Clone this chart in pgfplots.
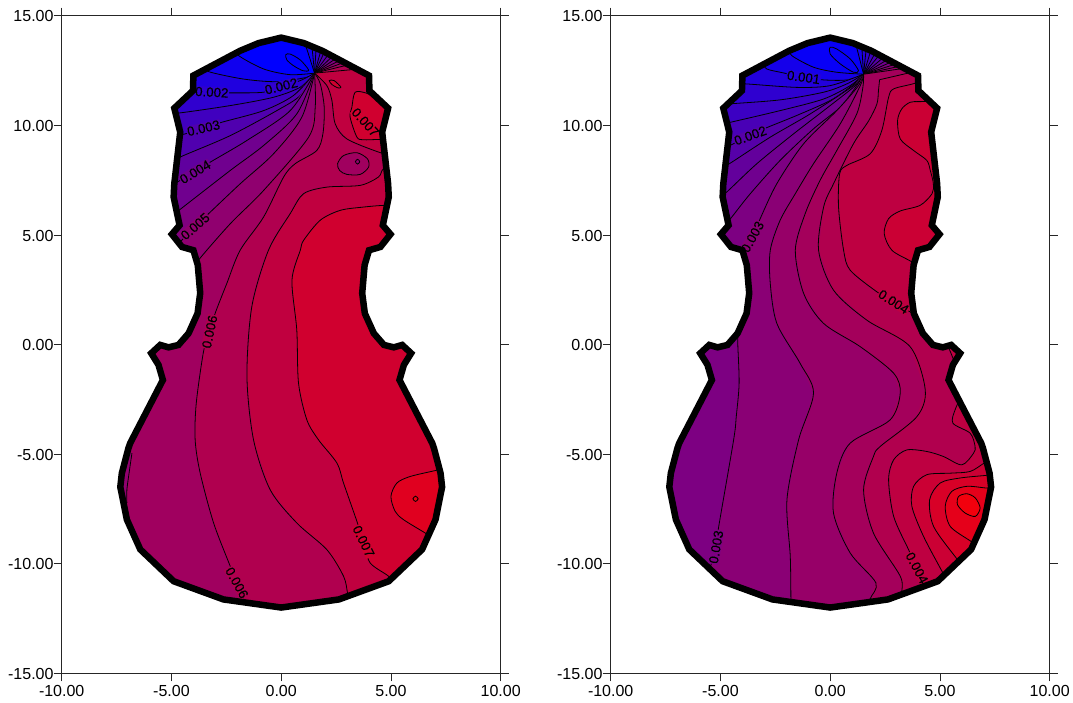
\documentclass[border=0pt]{standalone}
\usepackage{pgfplots}
\pgfplotsset{compat=1.18}
\usepackage{fontspec}
\setmainfont{Liberation Sans}
\newfontfamily\lblfam[FakeBold=0.35]{Liberation Sans}
\newcommand\dc[1]{\edef\x{\noexpand\definecolor{r#1}{RGB}{#1,0,\the\numexpr255-#1\relax}}\x}
\dc{0}\dc{8}\dc{16}\dc{21}\dc{32}\dc{34}\dc{47}\dc{48}\dc{60}\dc{64}\dc{73}\dc{80}\dc{86}\dc{96}\dc{99}\dc{112}\dc{125}\dc{128}\dc{138}\dc{144}\dc{151}\dc{160}\dc{164}\dc{176}\dc{177}\dc{190}\dc{192}\dc{203}\dc{208}\dc{216}\dc{224}\dc{229}\dc{240}\dc{242}
\newcommand\lblfont{\lblfam\fontsize{13.3}{14}\selectfont}
\tikzset{cl/.style={black,line width=0.8pt}}
% filled region bounded by a contour + the contour line
\newcommand\band[3]{\addplot[fill=#1,draw=none] coordinates {#2 #3} --cycle;
  \addplot[cl,smooth] coordinates {#2};}
% same, contour runs into the focus #3, then straight to the outline at #4
\newcommand\fan[5]{\addplot[fill=#1,draw=none] coordinates {#2 #3 #4 #5} --cycle;
  \addplot[cl,smooth] coordinates {#2 #3};
  \addplot[cl] coordinates {#3 #4};}
\newcommand\blob[2]{\addplot[cl,fill=#1,smooth cycle] coordinates {#2};}
\newcommand\cls[1]{(10,15)(10,-15)(-10,-15)(-10,#1)}
\newcommand\lb[5]{\node[fill=#5,inner sep=0.6pt,rotate=#3] at (axis cs:#1,#2) {\lblfont\phantom{#4}};}
\newcommand\lt[4]{\node[inner sep=0pt,rotate=#3,text=black] at (axis cs:#1,#2) {\lblfont #4};}
\newcommand\violin{(0,14)(1.03,13.75)(1.87,13.4)(4.0,12.27)(4.02,11.58)(4.87,10.78)(4.6,9.69)(4.87,7.34)(4.9,6.73)(4.63,5.44)(4.98,5.03)(4.52,4.45)(4.0,4.3)(3.8,3.62)(3.69,2.34)(3.81,1.42)(4.22,0.51)(4.68,-0.02)(5.13,-0.13)(5.51,-0.02)(5.92,-0.4)(5.59,-0.93)(5.39,-1.62)(6.88,-4.5)(6.96,-4.73)(7.26,-5.87)(7.33,-6.5)(7.03,-7.99)(6.42,-9.35)(4.9,-10.8)(2.63,-11.63)(0,-12)(-2.63,-11.63)(-4.9,-10.8)(-6.42,-9.35)(-7.03,-7.99)(-7.33,-6.5)(-7.26,-5.87)(-6.96,-4.73)(-6.88,-4.5)(-5.39,-1.62)(-5.59,-0.93)(-5.92,-0.4)(-5.51,-0.02)(-5.13,-0.13)(-4.68,-0.02)(-4.22,0.51)(-3.81,1.42)(-3.69,2.34)(-3.8,3.62)(-4.0,4.3)(-4.52,4.45)(-4.98,5.03)(-4.63,5.44)(-4.9,6.73)(-4.87,7.34)(-4.6,9.69)(-4.87,10.78)(-4.02,11.58)(-4.0,12.27)(-1.87,13.4)(-1.03,13.75)}
\newcommand\mask{\addplot[fill=white,draw=none,even odd rule] coordinates {(0,-15)(-11,-15)(-11,16)(11,16)(11,-15)(0,-15)(0,-12)(-2.63,-11.63)(-4.9,-10.8)(-6.42,-9.35)(-7.03,-7.99)(-7.33,-6.5)(-7.26,-5.87)(-6.96,-4.73)(-6.88,-4.5)(-5.39,-1.62)(-5.59,-0.93)(-5.92,-0.4)(-5.51,-0.02)(-5.13,-0.13)(-4.68,-0.02)(-4.22,0.51)(-3.81,1.42)(-3.69,2.34)(-3.8,3.62)(-4.0,4.3)(-4.52,4.45)(-4.98,5.03)(-4.63,5.44)(-4.9,6.73)(-4.87,7.34)(-4.6,9.69)(-4.87,10.78)(-4.02,11.58)(-4.0,12.27)(-1.87,13.4)(-1.03,13.75)(0,14)(1.03,13.75)(1.87,13.4)(4.0,12.27)(4.02,11.58)(4.87,10.78)(4.6,9.69)(4.87,7.34)(4.9,6.73)(4.63,5.44)(4.98,5.03)(4.52,4.45)(4.0,4.3)(3.8,3.62)(3.69,2.34)(3.81,1.42)(4.22,0.51)(4.68,-0.02)(5.13,-0.13)(5.51,-0.02)(5.92,-0.4)(5.59,-0.93)(5.39,-1.62)(6.88,-4.5)(6.96,-4.73)(7.26,-5.87)(7.33,-6.5)(7.03,-7.99)(6.42,-9.35)(4.9,-10.8)(2.63,-11.63)(0,-12)} --cycle;
\addplot[black,line width=6.5pt,line join=miter,miter limit=6] coordinates {\violin} --cycle;}
\pgfplotsset{panel/.style={scale only axis,width=439pt,height=657.6pt,
  xmin=-10,xmax=10,ymin=-15,ymax=15,axis on top,
  xtick={-10,-5,0,5,10},ytick={-15,-10,-5,0,5,10,15},
  xticklabels={-10.00,-5.00,0.00,5.00,10.00},
  yticklabels={-15.00,-10.00,-5.00,0.00,5.00,10.00,15.00},
  tick align=outside,tick pos=both,xticklabel pos=lower,yticklabel pos=left,
  major tick length=8pt,
  axis line style={line width=0.8pt,black!85},
  tick style={line width=0.8pt,black!85},
  tick label style={font=\fontsize{16}{18}\selectfont},
  xticklabel style={inner sep=0pt,yshift=-4pt},
  yticklabel style={inner sep=0pt,yshift=-0.7pt}}}
\begin{document}
\begin{tikzpicture}
\path[use as bounding box] (0,0) rectangle (1073pt,702pt);
%===================== LEFT
\begin{axis}[panel,at={(61.7pt,28.7pt)},anchor=south west]
\def\F{(1.52,12.38)}
\addplot[fill=r0,draw=none] coordinates {(-10,-15)(10,-15)(10,15)(-10,15)} --cycle;
\blob{r0}{(0.21,13.22)(0.41,13.25)(0.87,12.98)(1.25,12.52)(0.99,12.49)(0.56,12.72)(0.26,12.98)}
\fan{r16}{(-2.0,13.5)(-1.94,13.18)(-0.8,12.57)(0.41,12.31)}{\F}{(1.09,13.72)}{(10,15)(10,-15)(-10,-15)(-10,15)(-2.0,15)}
\fan{r32}{(-3.4,12.7)(-3.31,12.45)(-1.72,12.11)(-0.2,11.99)(1.17,12.19)}{\F}{(1.40,13.6)}{(10,15)(10,-15)(-10,-15)(-10,15)(-3.4,15)}
\fan{r48}{(-4.3,11.5)(-3.99,11.51)(-2.32,11.48)(-0.8,11.51)(0,11.78)(0.87,12.04)}{\F}{(1.59,13.52)}{\cls{11.5}}
\fan{r64}{(-5.2,10.6)(-4.75,10.55)(-2.32,10.9)(-0.35,11.28)(0.87,11.74)}{\F}{(1.81,13.42)}{\cls{10.6}}
\fan{r80}{(-4.9,9.5)(-4.37,9.61)(-3.54,9.87)(-2.7,10.14)(-0.8,10.67)(0.56,11.36)}{\F}{(1.97,13.35)}{\cls{9.5}}
\fan{r96}{(-5,8.35)(-4.45,8.62)(-2.32,9.53)(-0.2,10.67)(0.87,11.36)}{\F}{(2.16,13.25)}{\cls{8.35}}
\fan{r112}{(-5.2,7.1)(-4.6,7.49)(-3.92,7.87)(-3.23,8.32)(-1.56,9.31)(0.41,10.67)}{\F}{(2.34,13.15)}{\cls{7.1}}
\fan{r128}{(-5.2,5.7)(-4.75,6.05)(-2.32,7.94)(-0.8,9.08)(0.71,10.52)}{\F}{(2.51,13.06)}{\cls{5.7}}
\fan{r144}{(-5,4.2)(-4.6,4.68)(-3.92,5.39)(-3.39,5.89)(-1.87,7.33)(-0.35,8.7)(0.94,10.37)}{\F}{(2.69,12.97)}{\cls{4.2}}
\fan{r160}{(-4.2,3.2)(-3.77,3.85)(-2.32,5.51)(-0.8,7.03)(1.25,9.46)(1.55,10.82)}{\F}{(2.87,12.87)}{\cls{3.2}}
\fan{r176}{(-1.55,-12.1)(-1.64,-11.79)(-2.02,-10.87)(-2.32,-10.12)(-3.08,-8.14)(-3.69,-5.87)(-3.92,-4.35)(-3.87,-2.68)(-3.54,-0.33)(-3.26,0.58)(-3.01,1.42)(-2.48,2.78)(-1.87,4.3)(-0.8,5.82)(0.11,7.64)(0.64,8.25)(1.62,8.85)(1.9,9.61)(1.96,10.82)(1.78,11.89)}{\F}{(3.07,12.76)}{(10,15)(10,-15)(-1.55,-15)}
\band{r144}{(-6.8,-4.96)(-6.91,-5.72)(-7.03,-6.63)(-7.03,-7.23)}{(-10,-7.23)(-10,-4.96)}
\fan{r192}{(5.3,8.55)(4.43,8.78)(2.99,9.38)(2.46,10.07)(2.31,11.13)(2.08,11.81)}{\F}{(3.45,12.56)}{(10,15)(10,8.55)}
\band{r192}{(3.1,-11.8)(3.02,-11.33)(2.84,-10.57)(2.08,-9.36)(0.71,-8.14)(-0.5,-6.63)(-1.26,-4.35)(-1.56,-1.47)(-1.34,1.72)(-0.58,4.3)(0.41,5.97)(1.02,6.88)(2.08,7.18)(3.6,7.26)(4.43,7.64)(4.66,8.02)(5.3,8.3)}{(10,8.3)(10,-15)(3.1,-15)}
\band{r208}{(5.2,-11)(4.89,-10.57)(4.05,-9.96)(3.75,-8.98)(3.45,-8.07)(2.84,-6.32)(2.54,-5.41)(1.7,-4.35)(1.17,-3.44)(0.79,-1.77)(0.71,0.66)(0.49,2.93)(0.87,4.3)(1.02,4.75)(1.78,5.67)(2.69,6.12)(3.75,6.27)(4.74,6.35)(5.4,6.3)}{(10,6.3)(10,-15)(5.2,-15)}
\band{r208}{(5.5,10.9)(4.36,11.2)(3.9,11.46)(3.37,11.51)(3.22,10.82)(3.14,10.37)(3.45,9.46)(3.75,9.34)(4.43,9.35)(5.4,9.3)}{(10,9.3)(10,10.9)}
\band{r224}{(7.6,-5.6)(7.02,-5.75)(5.88,-6.02)(5.27,-6.32)(5.0,-6.93)(5.19,-7.61)(5.57,-7.99)(6.56,-8.6)(6.9,-8.85)}{(10,-8.85)(10,-5.6)}
\blob{r160}{(2.57,8.25)(2.84,8.62)(3.45,8.75)(3.93,8.47)(3.98,8.09)(3.6,7.76)(2.99,7.76)(2.66,7.94)}
\blob{r144}{(3.48,8.45)(3.58,8.34)(3.48,8.23)(3.38,8.34)}
\blob{r208}{(2.19,12.04)(2.41,12.04)(2.72,11.74)(2.57,11.71)(2.31,11.86)}
\blob{r240}{(6.12,-6.92)(6.24,-7.04)(6.12,-7.16)(6.0,-7.04)}
\lb{-3.16}{11.51}{-3}{0.002}{r48}
\lb{0}{11.78}{14}{0.002}{r48}
\lb{-3.54}{9.87}{13}{0.003}{r80}
\lb{-3.92}{7.87}{31}{0.004}{r112}
\lb{-3.92}{5.39}{41}{0.005}{r144}
\lb{-3.26}{0.58}{78}{0.006}{r176}
\lb{-2.02}{-10.87}{-61}{0.006}{r176}
\lb{3.75}{-8.98}{-64}{0.007}{r208}
\lb{3.83}{10.14}{-48}{0.007}{r208}
\mask
\lt{-3.16}{11.51}{-3}{0.002}
\lt{0}{11.78}{14}{0.002}
\lt{-3.54}{9.87}{13}{0.003}
\lt{-3.92}{7.87}{31}{0.004}
\lt{-3.92}{5.39}{41}{0.005}
\lt{-3.26}{0.58}{78}{0.006}
\lt{-2.02}{-10.87}{-61}{0.006}
\lt{3.75}{-8.98}{-64}{0.007}
\lt{3.83}{10.14}{-48}{0.007}
\end{axis}
%===================== RIGHT
\begin{axis}[panel,at={(610.7pt,28.7pt)},anchor=south west]
\def\F{(1.52,12.33)}
\addplot[fill=r8,draw=none] coordinates {(-10,-15)(10,-15)(10,15)(-10,15)} --cycle;
\blob{r8}{(0,13.56)(0.3,13.48)(0.91,13.03)(1.29,12.49)(1.06,12.42)(0.46,12.8)(0,13.25)}
\fan{r21}{(-1.85,13.5)(-1.75,13.18)(-0.76,12.65)(0.3,12.42)}{\F}{(1.17,13.69)}{(10,15)(10,-15)(-10,-15)(-10,15)(-1.85,15)}
\fan{r34}{(-3.05,12.85)(-2.89,12.57)(-2.13,12.39)(-1.21,12.19)(-0.3,12.07)(0.76,12.07)}{\F}{(1.44,13.58)}{(10,15)(10,-15)(-10,-15)(-10,15)(-3.05,15)}
\fan{r47}{(-4.3,11.85)(-3.87,11.89)(-1.52,11.73)(0,11.81)}{\F}{(1.64,13.5)}{\cls{11.85}}
\fan{r60}{(-5,10.95)(-4.56,10.98)(-2.28,11.16)(-0.3,11.51)(0.76,11.89)}{\F}{(1.85,13.41)}{\cls{10.95}}
\fan{r73}{(-5.2,10)(-4.71,10.1)(-2.28,10.67)(-0.3,11.2)(0.91,11.81)}{\F}{(2.05,13.3)}{\cls{10}}
\fan{r86}{(-5,8.85)(-4.4,9.16)(-3.64,9.53)(-2.92,9.88)(-1.52,10.45)(0,11.13)(0.99,11.81)}{\F}{(2.23,13.2)}{\cls{8.85}}
\fan{r99}{(-5.1,7.95)(-4.48,8.32)(-2.73,9.46)(-0.91,10.52)(1.06,11.81)}{\F}{(2.43,13.1)}{\cls{7.95}}
\fan{r112}{(-5.2,6.6)(-4.71,6.96)(-3.34,8.25)(-1.67,9.61)(0,10.9)(1.14,11.81)}{\F}{(2.61,13.0)}{\cls{6.6}}
\fan{r125}{(-5,5.2)(-4.48,5.82)(-3.64,6.88)(-2.28,8.4)(-0.76,9.84)(0.46,10.83)(1.21,11.81)}{\F}{(2.81,12.9)}{\cls{5.2}}
\fan{r138}{(-4.6,3.4)(-3.54,4.91)(-3.19,5.74)(-2.43,7.34)(-1.21,9.16)(0.3,10.67)(1.29,11.81)}{\F}{(3.01,12.8)}{\cls{3.4}}
\band{r125}{(-4.2,0.4)(-4.21,0.01)(-4.15,-1.77)(-4.28,-3.29)(-4.4,-4.35)(-5.09,-8.37)(-5.2,-9.24)(-5.6,-10.6)}{(-10,-10.6)(-10,0.4)}
\fan{r151}{(-1.79,-12.1)(-1.79,-11.6)(-1.82,-9.66)(-1.97,-7.08)(-1.44,-4.35)(-0.76,-2.22)(-1.37,-0.86)(-2.43,0.96)(-2.73,2.78)(-2.73,4.3)(-2.28,5.67)(-1.59,6.88)(-0.76,8.25)(0.46,10.07)(1.37,11.81)}{\F}{(3.19,12.7)}{(10,15)(10,-15)(-1.79,-15)}
\fan{r164}{(1.75,-12.1)(1.82,-11.6)(2.08,-10.87)(0.91,-9.51)(0.15,-7.69)(0.3,-5.87)(0.91,-4.5)(2.73,-3.44)(3.19,-2.22)(2.89,-1.31)(1.37,-0.1)(-0.3,0.96)(-1.21,2.33)(-1.59,4.3)(-1.14,5.97)(-0.46,7.49)(0.3,8.85)(1.21,10.52)(1.49,11.74)}{\F}{(3.37,12.6)}{(10,15)(10,-15)(1.75,-15)}
\fan{r177}{(3.3,-11.9)(3.26,-11.33)(3.19,-10.57)(1.97,-8.6)(1.52,-6.63)(1.97,-5.11)(2.28,-4.65)(3.95,-3.29)(4.33,-2.07)(3.64,-0.1)(1.67,1.11)(0.15,2.48)(-0.53,4.3)(-0.3,6.27)(0.15,7.33)(1.06,9.16)(1.75,10.2)(2.13,10.98)(2.2,11.6)}{(2.25,12.08)}{(3.72,12.42)}{(10,15)(10,-15)(3.3,-15)}
\band{r190}{(4.4,1.1)(3.64,1.49)(2.89,1.95)(2.13,2.4)(0.91,3.39)(0.61,4.3)(0.38,6.27)(0.43,7.79)(0.76,8.17)(1.82,8.7)(2.35,9.76)(2.66,11.28)(2.89,11.66)(3.8,11.9)(4.6,12.2)}{(10,12.2)(10,1.1)}
\band{r203}{(5.3,11.1)(4.1,11.08)(3.64,11.05)(3.26,10.75)(3.07,10.22)(3.19,9.38)(3.8,8.85)(4.4,8.4)(4.56,7.94)(4.7,7.33)(4.64,6.88)(4.1,6.35)(3.19,6.09)(2.66,5.74)(2.46,5.06)(2.81,4.3)(3.72,3.77)(4.6,3.2)}{(10,3.2)(10,11.1)}
\band{r190}{(5.3,0)(5.44,-0.25)(5.69,-0.86)(5.85,-1.2)}{(10,-1.2)(10,0)}
\band{r190}{(6.5,-2.1)(6.0,-2.38)(5.69,-2.98)(5.59,-3.59)(6.38,-4.05)(6.6,-4.65)(6.53,-4.96)(6.0,-5.49)(5.16,-5.11)(4.4,-4.88)(3.49,-4.81)(2.89,-5.26)(2.66,-6.17)(2.89,-7.84)(3.57,-9.36)(3.95,-10.19)(4.33,-10.87)(4.5,-11.4)}{(4.5,-15)(10,-15)(10,-2.1)}
\band{r203}{(7.6,-5.1)(7.06,-5.38)(6.38,-5.79)(5.47,-5.87)(4.4,-5.94)(3.8,-6.47)(3.72,-7.38)(4.25,-8.75)(5.09,-10.34)(5.4,-10.9)}{(5.4,-15)(10,-15)(10,-5.1)}
\band{r216}{(7.7,-5.9)(7.11,-5.97)(5.92,-6.09)(5.01,-6.32)(4.53,-7.08)(4.71,-8.3)(5.74,-9.74)(6.1,-10.2)}{(6.1,-15)(10,-15)(10,-5.9)}
\band{r229}{(7.7,-6.55)(7.14,-6.55)(6.23,-6.47)(5.54,-6.7)(5.24,-7.38)(5.47,-8.3)(6.41,-8.98)(6.8,-9.3)}{(10,-9.3)(10,-6.55)}
\blob{r242}{(6.23,-6.81)(6.61,-7.0)(6.83,-7.46)(6.61,-7.84)(6.15,-7.69)(5.8,-7.31)(5.85,-6.93)}
\lb{-1.21}{12.19}{-8}{0.001}{r34}
\lb{-3.64}{9.53}{20}{0.002}{r86}
\lb{-3.54}{4.91}{61}{0.003}{r138}
\lb{-5.2}{-9.24}{80}{0.003}{r125}
\lb{2.89}{1.95}{-33}{0.004}{r190}
\lb{3.95}{-10.19}{-62}{0.004}{r190}
\mask
\lt{-1.21}{12.19}{-8}{0.001}
\lt{-3.64}{9.53}{20}{0.002}
\lt{-3.54}{4.91}{61}{0.003}
\lt{-5.2}{-9.24}{80}{0.003}
\lt{2.89}{1.95}{-33}{0.004}
\lt{3.95}{-10.19}{-62}{0.004}
\end{axis}
\end{tikzpicture}
\end{document}
